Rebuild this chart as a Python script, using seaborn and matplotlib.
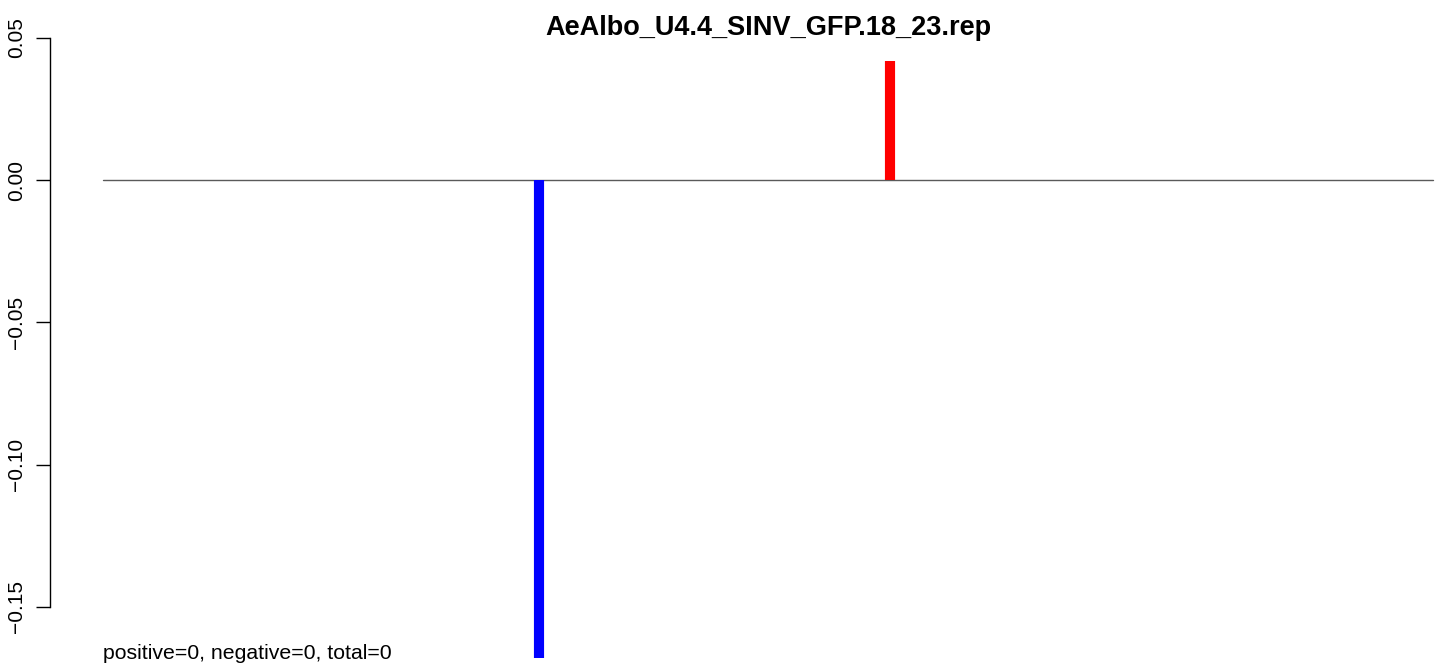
import matplotlib
matplotlib.use("Agg")
import matplotlib.pyplot as plt
import seaborn as sns
import pandas as pd

# data
title = "AeAlbo_U4.4_SINV_GFP.18_23.rep"
baseline_x = [1, 300]
baseline_y = [0.0, 0.0]
bar_pos = [99, 178]
bar_val = [-0.168, 0.0418]
bar_col = ["#0000ff", "#ff0000"]
yticks = [-0.15, -0.10, -0.05, 0.00, 0.05]
ytick_labels = ["\u22120.15", "\u22120.10", "\u22120.05", "0.00", "0.05"]
summary = "positive=0, negative=0, total=0"

sns.set_style("white")
plt.rcParams["font.family"] = ["Liberation Sans", "DejaVu Sans"]
plt.rcParams["text.color"] = "black"
plt.rcParams["ytick.color"] = "black"
plt.rcParams["ytick.labelcolor"] = "black"

W, H = 1439, 664
fig = plt.figure(figsize=(W / 100, H / 100), dpi=100)
# plot region like R: starts at x=50px and runs past the right edge
ax = fig.add_axes([50 / W, 0, (1486 - 50) / W, 1])

span = baseline_x[1] - baseline_x[0]
ax.set_xlim(baseline_x[0] - 0.04 * span, baseline_x[1] + 0.04 * span)
ax.set_ylim(-0.1701, 0.0633)

df_line = pd.DataFrame({"x": baseline_x, "y": baseline_y})
sns.lineplot(data=df_line, x="x", y="y", ax=ax, color="#5a5a5a", lw=1.0, zorder=1)
ax.vlines(bar_pos, 0, bar_val, colors=bar_col, lw=7.3, capstyle="butt", zorder=2)

for s in ["top", "right", "bottom"]:
    ax.spines[s].set_visible(False)
ax.spines["left"].set_bounds(yticks[0], yticks[-1])
ax.spines["left"].set_color("black")
ax.spines["left"].set_linewidth(1.0)
ax.set_yticks(yticks)
ax.set_yticklabels(ytick_labels, rotation=90, va="center", fontsize=15, color="black")
ax.tick_params(axis="y", left=True, length=10, width=1.0, pad=7, color="black")
ax.set_xticks([])
ax.set_xlabel("")
ax.set_ylabel("")

ax.text(0.5, 1 - 28 / H, title, transform=ax.transAxes, ha="center", va="center",
        fontsize=19.5, fontweight="bold", color="black")
ax.text(baseline_x[0], -0.1701 + 5 / H * (0.0633 + 0.1701), summary, ha="left",
        va="baseline", fontsize=15.3, color="black")

fig.savefig("out.png", dpi=100)
